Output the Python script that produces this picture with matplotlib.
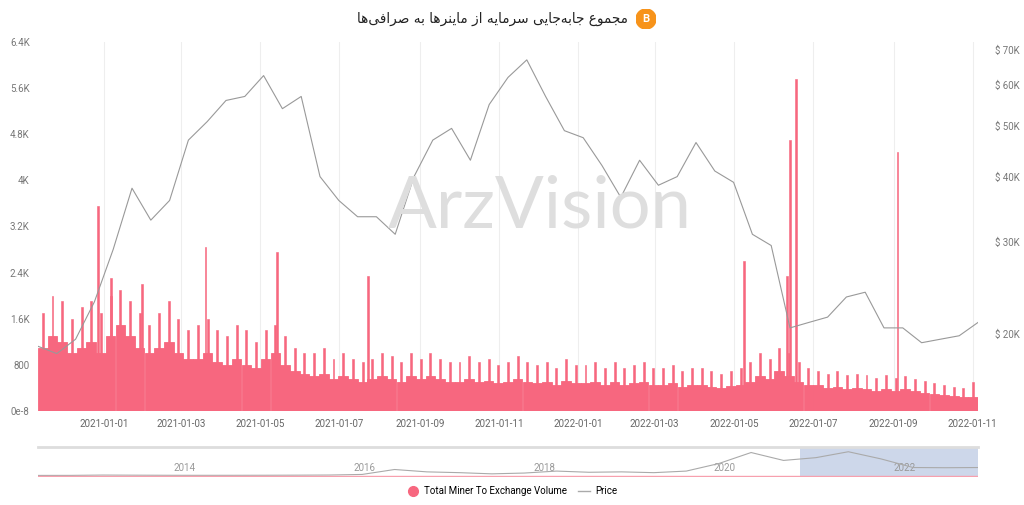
import numpy as np
import pandas as pd
import matplotlib
matplotlib.use("Agg")
import matplotlib.pyplot as plt
from matplotlib.lines import Line2D

# ---------------- data ----------------
title_fa = "مجموع جابه‌جایی سرمایه از ماینرها به صرافی‌ها"
start, end = "2020-11-11", "2022-11-05"

vol_base = [1100,1300,1200,1000,1100,1200,1000,1300,1500,1300,1100,1000,1100,1200,1000,900,
            900,1000,850,800,900,800,750,900,1000,800,700,650,600,650,550,600,
            550,500,550,600,550,500,600,550,600,550,500,500,550,500,520,480,
            500,550,500,480,500,450,520,480,480,500,450,500,450,480,500,450,
            450,480,420,450,450,420,400,430,450,500,600,550,700,600,500,450,
            450,400,420,380,400,380,350,380,350,380,340,320,300,280,260,250,250,240]
vol_high = [1700,2000,1900,1600,1800,1900,1700,2000,2100,1900,1700,1500,1700,1900,1600,1400,
            1500,1600,1400,1300,1500,1400,1200,1400,1500,1300,1100,1000,1000,1100,900,1000,
            900,850,900,1000,950,850,1000,900,1000,900,850,850,950,850,900,800,
            850,950,850,800,850,750,900,800,800,850,750,850,750,800,850,750,
            750,800,700,750,750,700,650,700,750,850,1000,900,1100,1000,850,750,
            700,650,700,620,650,620,580,620,580,600,560,520,480,450,420,400,500,380]
spike_dates = ["2020-12-27","2021-01-06","2021-01-30","2021-03-20","2021-05-14","2021-07-23",
               "2022-05-09","2022-06-11","2022-06-13","2022-06-18","2022-09-04"]
spike_vals = [3550,2300,2200,2850,2750,2350,2600,2350,4700,5750,4500]

price = [18900,18300,19500,23000,29000,38000,33000,36000,47000,51000,56000,57000,
         62500,54000,57000,40000,36000,33500,33500,31000,40000,47000,49500,43000,
         55000,62000,67000,57000,49000,47500,42000,36500,43000,38500,40000,46500,
         41000,39000,31000,29500,20500,21000,21500,23500,24000,20500,20500,19200,
         19500,19800,21000]

mini_price = [5,100,900,600,350,250,300,420,650,1000,2500,15000,9000,7000,4000,
              6000,11000,8000,9000,7000,11000,30000,58000,38000,45000,60000,42000,20000,19500,20000]

xtick_dates = ["2021-01-01","2021-03-01","2021-05-01","2021-07-01","2021-09-01","2021-11-01",
               "2022-01-01","2022-03-01","2022-05-01","2022-07-01","2022-09-01","2022-11-01"]
xtick_labels = ["2021-01-01","2021-01-03","2021-01-05","2021-01-07","2021-01-09","2021-01-11",
                "2022-01-01","2022-01-03","2022-01-05","2022-01-07","2022-01-09","2022-01-11"]
left_ticks = [0,800,1600,2400,3200,4000,4800,5600,6400]
left_labels = ["0e-8","800","1.6K","2.4K","3.2K","4K","4.8K","5.6K","6.4K"]
right_ticks = [20000,30000,40000,50000,60000,70000]
right_labels = ["$ 20K","$ 30K","$ 40K","$ 50K","$ 60K","$ 70K"]

# -------- simple Arabic shaping into presentation forms --------
FORMS = {  # iso, fin, ini, med (None => right-joining)
 'ا':('\uFE8D','\uFE8E',None,None),'ب':('\uFE8F','\uFE90','\uFE91','\uFE92'),
 'ج':('\uFE9D','\uFE9E','\uFE9F','\uFEA0'),'ر':('\uFEAD','\uFEAE',None,None),
 'ز':('\uFEAF','\uFEB0',None,None),'س':('\uFEB1','\uFEB2','\uFEB3','\uFEB4'),
 'ص':('\uFEB9','\uFEBA','\uFEBB','\uFEBC'),'ع':('\uFEC9','\uFECA','\uFECB','\uFECC'),
 'ف':('\uFED1','\uFED2','\uFED3','\uFED4'),'م':('\uFEE1','\uFEE2','\uFEE3','\uFEE4'),
 'ن':('\uFEE5','\uFEE6','\uFEE7','\uFEE8'),'ه':('\uFEE9','\uFEEA','\uFEEB','\uFEEC'),
 'و':('\uFEED','\uFEEE',None,None),'ی':('\uFEEF','\uFEF0','\uFEF3','\uFEF4'),
}
def shape(s):
    out = []
    n = len(s)
    for i, c in enumerate(s):
        if c not in FORMS:
            out.append(' ' if c == ' ' else ('' if c == '\u200c' else c)); continue
        f = FORMS[c]
        p = s[i-1] if i > 0 else None
        q = s[i+1] if i < n-1 else None
        jp = p in FORMS and FORMS[p][2] is not None
        jn = q in FORMS and f[2] is not None
        if jp and jn: g = f[3]
        elif jp: g = f[1]
        elif jn: g = f[2]
        else: g = f[0]
        out.append(g)
    return ''.join(out)[::-1]

# ---------------- plot ----------------
plt.rcParams['font.family'] = ['Roboto', 'DejaVu Sans']
fig = plt.figure(figsize=(10.24, 5.05), dpi=100)
ax = fig.add_axes([38/1024, 1-411/505, 940/1024, 369/505])

t0, t1 = pd.Timestamp(start), pd.Timestamp(end)
xd = pd.date_range(t0, t1, periods=len(vol_base))
w = (t1 - t0).days / len(vol_base)
pink = "#f7677f"
ax.bar(xd, vol_base, width=w, color=pink, align='edge', edgecolor=pink, linewidth=0.6)
ax.bar(xd + pd.Timedelta(days=w/2), vol_high, width=1.5, color=pink, edgecolor=pink, linewidth=0.4)
ax.bar(pd.to_datetime(spike_dates), spike_vals, width=1.5, color=pink, edgecolor=pink,
       linewidth=0.4, zorder=3)
ax.set_ylim(0, 6400)
ax.set_xlim(t0, t1)
ax.set_yticks(left_ticks)
ax.set_yticklabels(left_labels, fontsize=7, color="#777777")
ax.set_xticks(pd.to_datetime(xtick_dates))
ax.set_xticklabels(xtick_labels, fontsize=7, color="#666666")
ax.tick_params(axis='both', length=0, pad=6)
ax.grid(axis='x', color="#eeeeee", linewidth=0.8)
ax.set_axisbelow(True)
for s in ax.spines.values():
    s.set_visible(False)

ax2 = ax.twinx()
xp = pd.date_range(t0, t1, periods=len(price))
ax2.plot(xp, price, color="#999999", linewidth=0.8)
ax2.set_yscale('log')
ax2.set_ylim(14200, 72500)
ax2.set_yticks(right_ticks)
ax2.set_yticklabels(right_labels, fontsize=7, color="#777777")
ax2.minorticks_off()
ax2.tick_params(axis='y', length=0, pad=12)
for s in ax2.spines.values():
    s.set_visible(False)

fig.text(540/1024, 1-207/505, "ArzVision", fontsize=52, color="#dedede",
         family=['Lato'], fontweight='normal', ha='center', va='center', zorder=0)

fig.text(628/1024, 1-19/505, shape(title_fa), fontsize=9.8, color="#222222",
         family=['DejaVu Sans'], ha='right', va='center')
icon = fig.add_axes([636/1024, 1-29/505, 20/1024, 20/505])
icon.add_patch(plt.Circle((0.5, 0.5), 0.5, color="#f7931a"))
icon.text(0.5, 0.48, "B", color="white", fontsize=8, fontweight='bold', ha='center', va='center')
icon.set_xlim(0,1); icon.set_ylim(0,1); icon.set_aspect('equal'); icon.axis('off')

# mini navigator
mx = fig.add_axes([38/1024, 1-477/505, 940/1024, 30/505])
ms, me = 2012.37, 2022.81
xm = np.linspace(ms, me, len(mini_price))
mx.plot(xm, mini_price, color="#aaaaaa", linewidth=0.8)
mx.axhline(-2000, color="#f7a0ae", linewidth=1)
mx.set_xlim(ms, me); mx.set_ylim(-4000, 72000)
mx.axvspan(2020.83, me, color="#b9c6e2", alpha=0.7, linewidth=0)
mx.set_xticks([2014,2016,2018,2020,2022])
mx.set_xticklabels(["2014","2016","2018","2020","2022"], fontsize=7, color="#999999")
mx.tick_params(axis='x', direction='in', pad=-10, length=0)
mx.set_yticks([])
for k, s in mx.spines.items():
    s.set_visible(k == 'top')
mx.spines['top'].set_color("#dddddd"); mx.spines['top'].set_linewidth(2)

handles = [Line2D([], [], marker='o', color=pink, linestyle='none', markersize=7),
           Line2D([], [], color="#aaaaaa", linewidth=1)]
fig.legend(handles, ["Total Miner To Exchange Volume", "Price"], loc='center',
           bbox_to_anchor=(0.5, 1-491/505), ncol=2, frameon=False, fontsize=7,
           handlelength=1.2, columnspacing=1.2, handletextpad=0.5)

fig.savefig("out.png", dpi=100, facecolor="white")
